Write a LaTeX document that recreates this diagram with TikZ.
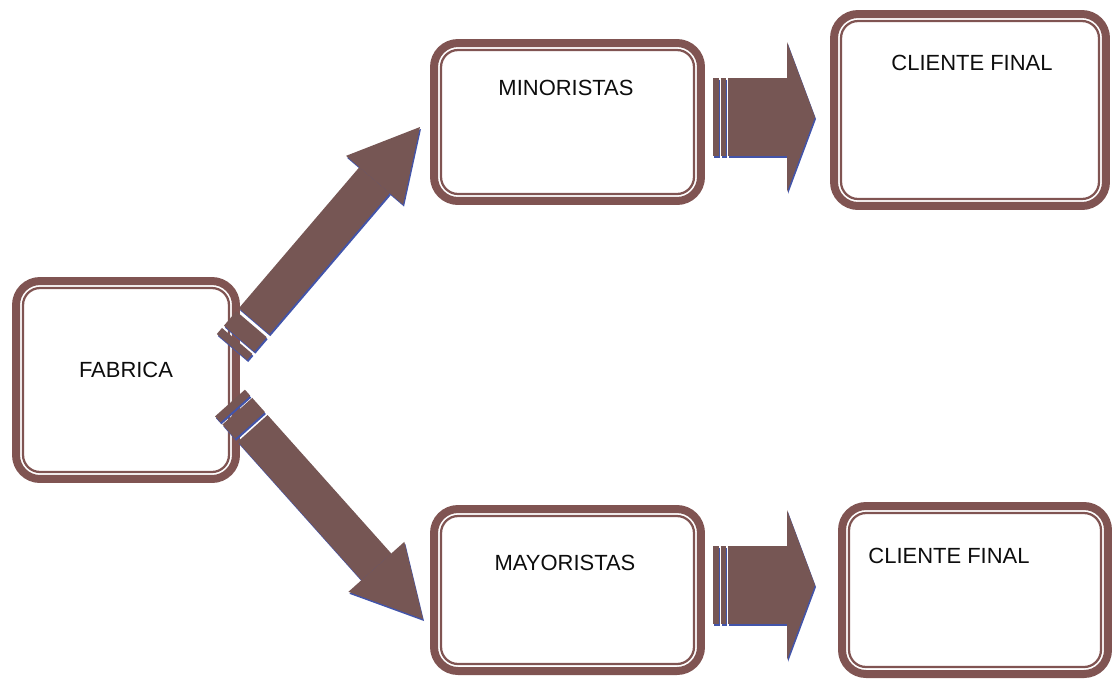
\documentclass[tikz,border=0pt]{standalone}
\usepackage{fontspec}
\setmainfont{Liberation Sans}
\usetikzlibrary{arrows.meta,calc}

\definecolor{marron}{RGB}{128,84,82}
\definecolor{marronflecha}{RGB}{118,86,84}
\definecolor{azul}{RGB}{66,84,170}

\tikzset{
  etapa/.style={draw=marron, line width=0.16cm, fill=white, rounded corners=0.48cm,
    inner sep=0pt, outer sep=0pt},
  borde/.style={draw=marron, line width=0.045cm, rounded corners=0.34cm},
  rotulo/.style={inner sep=0pt, text=black!95, font=\fontsize{12.5}{15}\selectfont},
}

% cola, punta, ancho, largo punta, ancho punta, franjas, inicio
\newcommand{\flecha}[7]{%
  \foreach \col/\dx/\dy in {azul/0.02cm/-0.04cm, marronflecha/0cm/0cm}{%
    \begin{scope}[transform canvas={shift={(\dx,\dy)}}]
      \foreach \a/\b in {#6}
        \draw[color=\col, line width=#3] ($(#1)!\a!(#2)$) -- ($(#1)!\b!(#2)$);
      \draw[color=\col, line width=#3, -{Triangle[length=#4, width=#5, line width=0pt]}]
        ($(#1)!#7!(#2)$) -- (#2);
    \end{scope}
  }%
}

\begin{document}
\begin{tikzpicture}[x=0.02cm, y=-0.02cm]
  \useasboundingbox[fill=white] (0,0) rectangle (1114,681);

  % etapas
  \node[etapa, minimum width=4.40cm, minimum height=3.96cm] (fab) at (126,380) {};
  \node[etapa, minimum width=5.34cm, minimum height=3.16cm] (mino) at (567.5,122) {};
  \node[etapa, minimum width=5.34cm, minimum height=3.24cm] (mayo) at (567.5,590) {};
  \node[etapa, minimum width=5.44cm, minimum height=3.84cm] (cli1) at (970,110) {};
  \node[etapa, minimum width=5.32cm, minimum height=3.36cm] (cli2) at (975,590) {};

  \foreach \n in {fab,mino,mayo,cli1,cli2}
    \draw[borde] ($(\n.north west)+(0.14cm,-0.14cm)$) rectangle ($(\n.south east)+(-0.14cm,0.14cm)$);

  \node[rotulo] (fabt) at (126,370) {FABRICA};
  \node[rotulo] (minot) at (566,88) {MINORISTAS};
  \node[rotulo] (mayot) at (565,563) {MAYORISTAS};
  \node[rotulo] (cli1t) at (972,63) {CLIENTE FINAL};
  \node[rotulo] (cli2t) at (949,556) {CLIENTE FINAL};

  % flechas
  \coordinate (fabmin) at (232,347);
  \coordinate (minpunta) at (420,127);
  \coordinate (fabmay) at (230,403);
  \coordinate (maypunta) at (423,619);
  \coordinate (minsal) at (713,117);
  \coordinate (cli1punta) at (815,117);
  \coordinate (maysal) at (713,585);
  \coordinate (cli2punta) at (815,585);

  \flecha{fabmin}{minpunta}{0.8cm}{1.4cm}{1.5cm}{0cm/0.16cm, 0.22cm/0.6cm}{0.68cm}
  \flecha{fabmay}{maypunta}{0.8cm}{1.4cm}{1.5cm}{0cm/0.16cm, 0.22cm/0.6cm}{0.68cm}
  \flecha{minsal}{cli1punta}{1.56cm}{0.56cm}{3cm}{0cm/0.11cm, 0.15cm/0.26cm}{0.30cm}
  \flecha{maysal}{cli2punta}{1.56cm}{0.56cm}{3cm}{0cm/0.11cm, 0.15cm/0.26cm}{0.30cm}
\end{tikzpicture}
\end{document}
